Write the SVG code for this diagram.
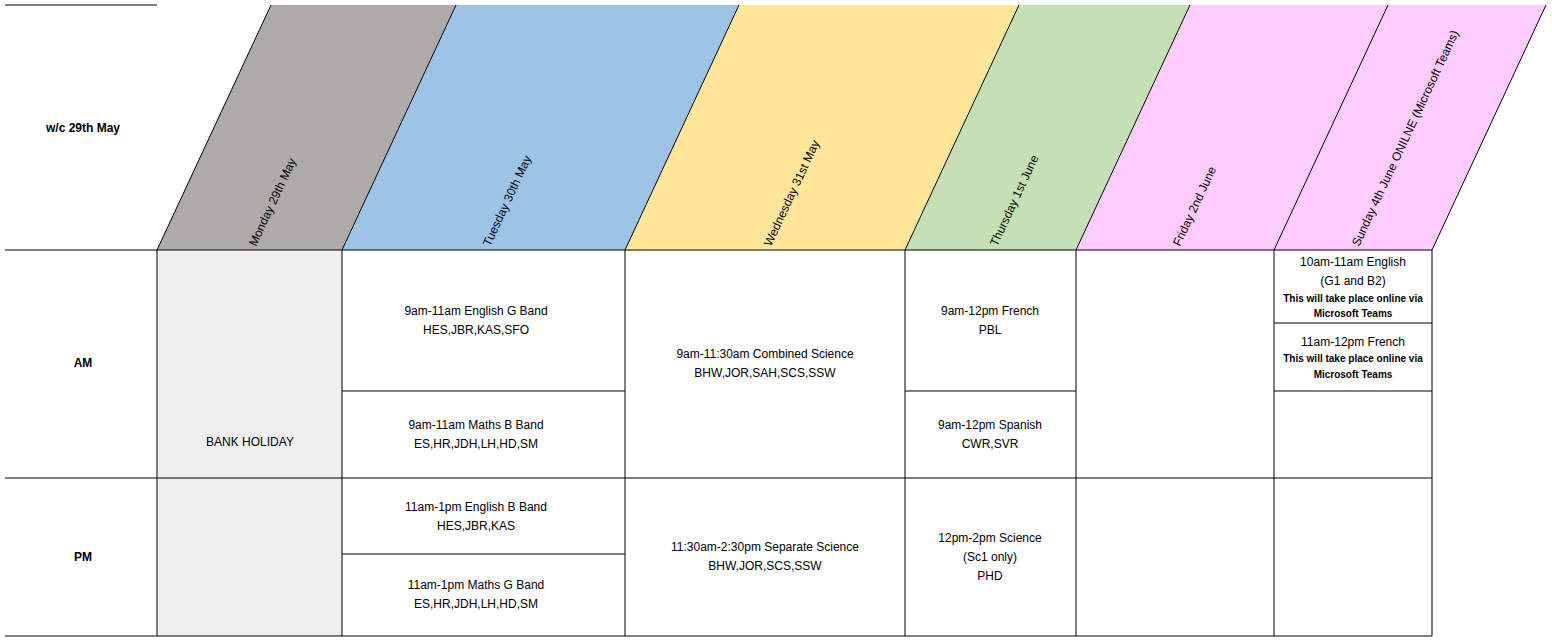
<svg xmlns="http://www.w3.org/2000/svg" width="1552" height="642" viewBox="0 0 1552 642">
<style>
text{font-family:"Liberation Sans",Arial,sans-serif;font-size:12px;fill:#000;text-anchor:middle}
.b{font-weight:bold}
.s{font-size:10px;font-weight:bold}
.h{text-anchor:start}
.hd{stroke:#000;stroke-width:2}
line{stroke:#000;stroke-width:1}
</style>
<rect width="1552" height="642" fill="#fff"/>
<g id="header">
<polygon points="157,250 271,5 456,5 342,250" fill="#aeaaaa"/>
<polygon points="342,250 456,5 739,5 625,250" fill="#9dc3e6"/>
<polygon points="625,250 739,5 1019,5 905,250" fill="#ffe699"/>
<polygon points="905,250 1019,5 1190,5 1076,250" fill="#c5e0b4"/>
<polygon points="1076,250 1190,5 1388,5 1274,250" fill="#ffccff"/>
<polygon points="1274,250 1388,5 1546,5 1432,250" fill="#ffccff"/>
<g class="hd">
<line x1="157" y1="250" x2="271" y2="5"/>
<line x1="342" y1="250" x2="456" y2="5"/>
<line x1="625" y1="250" x2="739" y2="5"/>
<line x1="905" y1="250" x2="1019" y2="5"/>
<line x1="1076" y1="250" x2="1190" y2="5"/>
<line x1="1274" y1="250" x2="1388" y2="5"/>
<line x1="1432" y1="250" x2="1546" y2="5"/>
</g>
<text class="h" transform="translate(256,247) rotate(-65)">Monday 29th May</text>
<text class="h" transform="translate(490,247) rotate(-65)">Tuesday 30th May</text>
<text class="h" transform="translate(771,247) rotate(-65)">Wednesday 31st May</text>
<text class="h" transform="translate(997,247) rotate(-65)">Thursday 1st June</text>
<text class="h" transform="translate(1180,247) rotate(-65)">Friday 2nd June</text>
<text class="h" transform="translate(1359,247) rotate(-65)">Sunday 4th June ONILNE (Microsoft Teams)</text>
</g>
<rect x="157" y="250" width="185" height="386" fill="#efefef"/>
<g id="grid">
<line x1="5" y1="5" x2="157" y2="5"/>
<line x1="5" y1="250" x2="1432" y2="250" stroke-width="1.5"/>
<line x1="5" y1="478" x2="1432" y2="478"/>
<line x1="5" y1="636" x2="1432" y2="636"/>
<line x1="157" y1="250" x2="157" y2="636"/>
<line x1="342" y1="250" x2="342" y2="636"/>
<line x1="625" y1="250" x2="625" y2="636"/>
<line x1="905" y1="250" x2="905" y2="636"/>
<line x1="1076" y1="250" x2="1076" y2="636"/>
<line x1="1274" y1="250" x2="1274" y2="636"/>
<line x1="1432" y1="250" x2="1432" y2="636"/>
<line x1="342" y1="391" x2="625" y2="391"/>
<line x1="342" y1="554" x2="625" y2="554"/>
<line x1="905" y1="391" x2="1076" y2="391"/>
<line x1="1274" y1="323" x2="1432" y2="323"/>
<line x1="1274" y1="391" x2="1432" y2="391"/>
</g>
<g id="labels">
<text class="b" x="83" y="132">w/c 29th May</text>
<text class="b" x="83" y="367">AM</text>
<text class="b" x="83" y="561">PM</text>
<text x="250" y="446">BANK HOLIDAY</text>
<text x="476" y="315">9am-11am English G Band</text>
<text x="476" y="334">HES,JBR,KAS,SFO</text>
<text x="476" y="429">9am-11am Maths B Band</text>
<text x="476" y="448">ES,HR,JDH,LH,HD,SM</text>
<text x="476" y="511">11am-1pm English B Band</text>
<text x="476" y="530">HES,JBR,KAS</text>
<text x="476" y="589">11am-1pm Maths G Band</text>
<text x="476" y="608">ES,HR,JDH,LH,HD,SM</text>
<text x="765" y="358">9am-11:30am Combined Science</text>
<text x="765" y="377">BHW,JOR,SAH,SCS,SSW</text>
<text x="765" y="551">11:30am-2:30pm Separate Science</text>
<text x="765" y="570">BHW,JOR,SCS,SSW</text>
<text x="990" y="315">9am-12pm French</text>
<text x="990" y="334">PBL</text>
<text x="990" y="429">9am-12pm Spanish</text>
<text x="990" y="448">CWR,SVR</text>
<text x="990" y="542">12pm-2pm Science</text>
<text x="990" y="561">(Sc1 only)</text>
<text x="990" y="580">PHD</text>
<text x="1353" y="266">10am-11am English</text>
<text x="1353" y="285">(G1 and B2)</text>
<text class="s" x="1353" y="302">This will take place online via</text>
<text class="s" x="1353" y="317">Microsoft Teams</text>
<text x="1353" y="346">11am-12pm French</text>
<text class="s" x="1353" y="362">This will take place online via</text>
<text class="s" x="1353" y="378">Microsoft Teams</text>
</g>
</svg>
